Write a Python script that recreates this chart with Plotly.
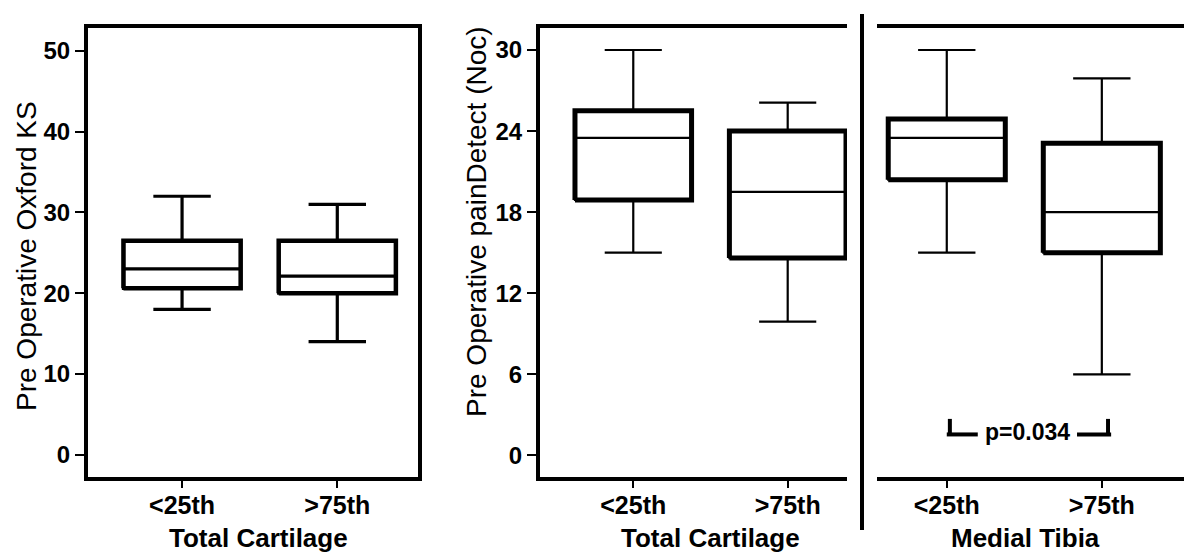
import plotly.graph_objects as go

W, H = 1184, 555

# ---- data -------------------------------------------------------------
groups = ["<25th", ">75th"]

# Pre Operative Oxford KS, Total Cartilage
oks_lower = [18.0, 14.0]
oks_q1 = [20.6, 20.0]
oks_median = [23.0, 22.1]
oks_q3 = [26.5, 26.5]
oks_upper = [32.0, 31.0]

# Pre Operative painDetect (Noc), Total Cartilage
pd_tc_lower = [15.0, 9.9]
pd_tc_q1 = [18.9, 14.6]
pd_tc_median = [23.5, 19.5]
pd_tc_q3 = [25.5, 24.0]
pd_tc_upper = [30.0, 26.1]

# Pre Operative painDetect (Noc), Medial Tibia
pd_mt_lower = [15.0, 6.0]
pd_mt_q1 = [20.4, 15.0]
pd_mt_median = [23.5, 18.0]
pd_mt_q3 = [24.9, 23.1]
pd_mt_upper = [30.0, 27.9]

p_label = "p=0.034"

# ---- styling ----------------------------------------------------------
FONT = "Liberation Sans, Arial, sans-serif"
BOX_W = 0.755
positions = [0, 1]


def px(x):
    return x / W


def py(y):
    return 1 - y / H


fig = go.Figure()


def add_panel(xa, ya, lower, q1, med, q3, upper, inner_w, border_w):
    fig.add_trace(go.Box(
        x=positions, lowerfence=lower, q1=q1, median=med, q3=q3,
        upperfence=upper, width=BOX_W, whiskerwidth=0.49,
        line=dict(color="black", width=inner_w),
        fillcolor="rgba(0,0,0,0)", boxpoints=False,
        xaxis=xa, yaxis=ya, showlegend=False, hoverinfo="skip",
    ))
    # heavier outline around each interquartile box
    for i, (a, b) in enumerate(zip(q1, q3)):
        c = positions[i]
        fig.add_trace(go.Scatter(
            x=[c - BOX_W / 2, c + BOX_W / 2, c + BOX_W / 2, c - BOX_W / 2, c - BOX_W / 2],
            y=[a, a, b, b, a], mode="lines",
            line=dict(color="black", width=border_w),
            xaxis=xa, yaxis=ya, showlegend=False, hoverinfo="skip",
        ))


add_panel("x", "y", oks_lower, oks_q1, oks_median, oks_q3, oks_upper, 3.2, 4.5)
add_panel("x2", "y2", pd_tc_lower, pd_tc_q1, pd_tc_median, pd_tc_q3, pd_tc_upper, 2.2, 5)
add_panel("x3", "y3", pd_mt_lower, pd_mt_q1, pd_mt_median, pd_mt_q3, pd_mt_upper, 2.2, 5)

ydom = [py(477), py(28)]
xtickfont = dict(family=FONT, size=25, color="black", weight="bold")
ytickfont = dict(family=FONT, size=24, color="black", weight="bold")

xcommon = dict(
    tickvals=positions, ticktext=groups, ticks="outside", ticklen=7,
    tickwidth=2, tickcolor="black", tickfont=xtickfont, showgrid=False,
    zeroline=False, showline=True, linecolor="black", linewidth=4, mirror=True,
    ticklabelstandoff=-4,
)
ycommon = dict(
    ticks="outside", ticklen=9, tickwidth=1.5, tickcolor="black",
    tickfont=ytickfont, showgrid=False, zeroline=False, showline=True,
    linecolor="black", linewidth=4,
)

fig.update_layout(
    width=W, height=H, margin=dict(l=0, r=0, t=0, b=0),
    paper_bgcolor="white", plot_bgcolor="white",
    xaxis=dict(domain=[px(88), px(418)], range=[-0.606, 1.52], anchor="y", **xcommon),
    xaxis2=dict(domain=[px(540), px(847)], range=[-0.604, 1.384], anchor="y2", **xcommon),
    xaxis3=dict(domain=[px(877), 1.0], range=[-0.45, 1.53], anchor="y3", **xcommon),
    yaxis=dict(domain=ydom, range=[-2.77, 52.84], tickvals=[0, 10, 20, 30, 40, 50],
               mirror=True, anchor="x", **ycommon),
    yaxis2=dict(domain=ydom, range=[-1.6, 31.63], tickvals=[0, 6, 12, 18, 24, 30],
                mirror=False, anchor="x2", **ycommon),
    yaxis3=dict(
        domain=ydom, range=[-1.6, 31.63], showticklabels=False, ticks="",
        showgrid=False, zeroline=False, showline=False, anchor="x3",
    ),
)

title_font = dict(family=FONT, size=28, color="black")
bold_title = dict(family=FONT, size=26, color="black", weight="bold")

ytitles = [
    dict(text="Pre Operative Oxford KS", x=px(27), y=py(256)),
    dict(text="Pre Operative painDetect (Noc)", x=px(476), y=py(222)),
]
for a in ytitles:
    fig.add_annotation(xref="paper", yref="paper", showarrow=False, textangle=-90,
                       xanchor="center", yanchor="middle", font=title_font, **a)

xtitles = [
    dict(text="Total Cartilage", x=px(258)),
    dict(text="Total Cartilage", x=px(710)),
    dict(text="Medial Tibia", x=px(1025)),
]
for a in xtitles:
    fig.add_annotation(xref="paper", yref="paper", y=0, showarrow=False,
                       xanchor="center", yanchor="bottom", font=bold_title, **a)

# significance bracket between the two Medial Tibia groups
fig.add_annotation(text=p_label, x=0.52, y=1.7, xref="x3", yref="y3", showarrow=False,
                   font=dict(family=FONT, size=23, color="black", weight="bold"))

bracket = dict(color="black", width=4)
fig.add_shape(type="line", xref="x3", yref="y3", x0=0.02, x1=0.02, y0=2.7, y1=1.45, line=bracket)
fig.add_shape(type="line", xref="x3", yref="y3", x0=0.0, x1=0.2, y0=1.55, y1=1.55, line=bracket)
fig.add_shape(type="line", xref="x3", yref="y3", x0=0.84, x1=1.06, y0=1.55, y1=1.55, line=bracket)
fig.add_shape(type="line", xref="x3", yref="y3", x0=1.04, x1=1.04, y0=2.7, y1=1.45, line=bracket)

# divider between the two painDetect panels
fig.add_shape(type="line", xref="paper", yref="paper", x0=px(862), x1=px(862),
              y0=py(14), y1=py(530), line=dict(color="black", width=4))

fig.write_html("out.html")
